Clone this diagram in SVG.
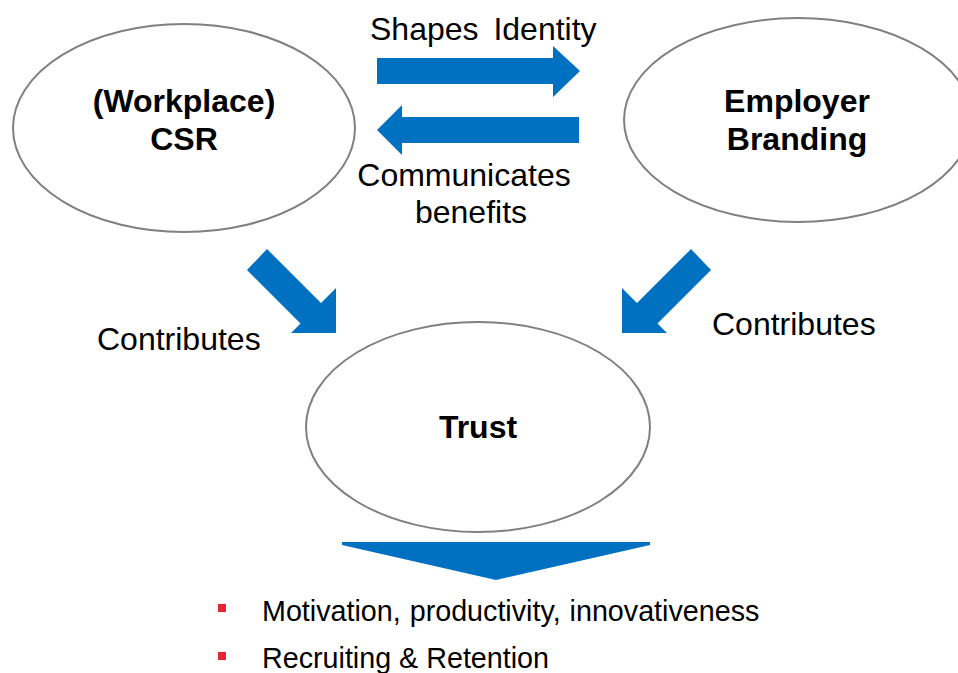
<svg xmlns="http://www.w3.org/2000/svg" width="958" height="673" viewBox="0 0 958 673">
<style>
.node{fill:#ffffff;stroke:#808080;stroke-width:2}
.lbl{font-family:"Liberation Sans",Arial,sans-serif;font-size:32px;font-weight:bold;fill:#000;text-anchor:middle}
.txt{font-family:"Liberation Sans",Arial,sans-serif;font-size:32px;fill:#000}
.bul{font-family:"Liberation Sans",Arial,sans-serif;font-size:28.7px;fill:#000}
.arr{fill:#0070C0}
.sq{fill:#E0282E}
</style>
<rect width="958" height="673" fill="#ffffff"/>
<g id="csr">
<ellipse class="node" cx="184" cy="128" rx="171" ry="104"/>
<text class="lbl" x="184" y="112">(Workplace)</text>
<text class="lbl" x="184" y="150">CSR</text>
</g>
<g id="employer-branding">
<ellipse class="node" cx="798" cy="120" rx="174" ry="102"/>
<text class="lbl" x="797" y="112">Employer</text>
<text class="lbl" x="797" y="150">Branding</text>
</g>
<g id="trust">
<ellipse class="node" cx="478" cy="427" rx="172" ry="105"/>
<text class="lbl" x="478" y="438">Trust</text>
</g>
<g id="connectors">
<polygon class="arr" points="377,58 553,58 553,46 580,71 553,97 553,84 377,84"/>
<polygon class="arr" points="579,117 402,117 402,105 377,130 402,155 402,143 579,143"/>
<polygon class="arr" points="247,270 267,249 321,303 336,288 336,333 291,333 300.5,323.5"/>
<polygon class="arr" points="711,270 691,249 637,303 622,288 622,333 667,333 657.5,323.5"/>
<polygon class="arr" points="342,542 650,542 650,545 496,580 342,545"/>
<text class="txt" x="370" y="40" word-spacing="6">Shapes Identity</text>
<text class="txt" x="464" y="186" text-anchor="middle">Communicates</text>
<text class="txt" x="471" y="223" text-anchor="middle">benefits</text>
<text class="txt" x="97" y="350">Contributes</text>
<text class="txt" x="712" y="335">Contributes</text>
</g>
<g id="outcomes">
<rect class="sq" x="218" y="604" width="8" height="8"/>
<text class="bul" x="262" y="621" word-spacing="1">Motivation, productivity, innovativeness</text>
<rect class="sq" x="218" y="652" width="8" height="8"/>
<text class="bul" x="262" y="668">Recruiting &amp; Retention</text>
</g>
</svg>
